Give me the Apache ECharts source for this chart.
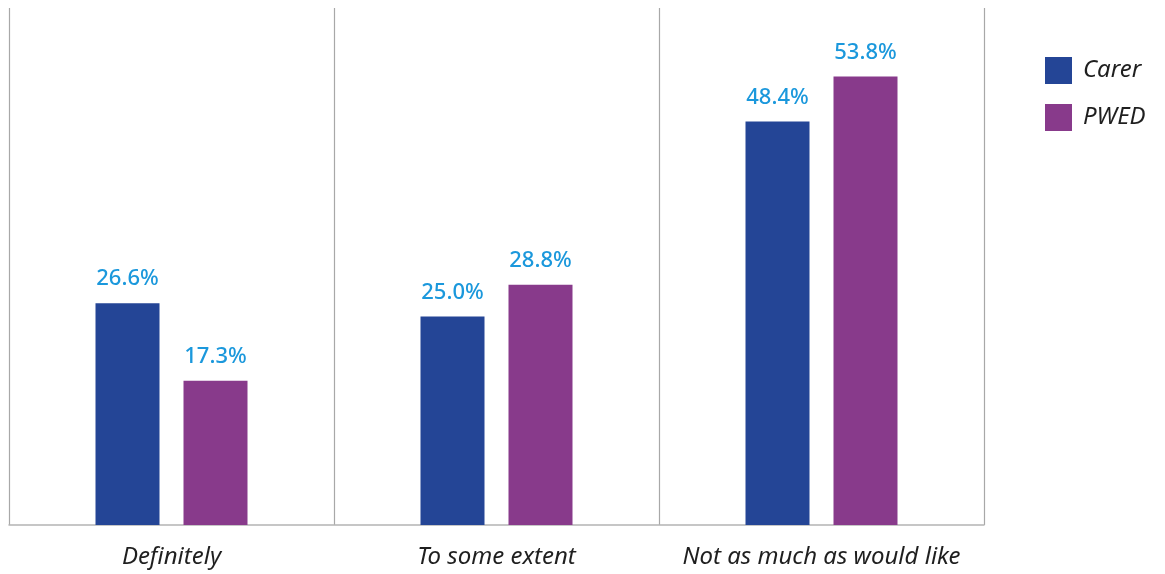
<!DOCTYPE html>
<html>
<head>
<meta charset="utf-8">
<script src="https://cdn.jsdelivr.net/npm/echarts@6/dist/echarts.min.js"></script>
<style>
  html, body { margin: 0; padding: 0; background: #ffffff; }
  #chart { width: 1165px; height: 574px; }
</style>
</head>
<body>
<div id="chart"></div>
<script>
// Responses per category, in percent
const categories = ['Definitely', 'To some extent', 'Not as much as would like'];
const carerValues = [26.6, 25.0, 48.4];
const pwedValues = [17.3, 28.8, 53.8];
const seriesNames = ['Carer', 'PWED'];

const COLORS = { carer: '#244596', pwed: '#883a8b', label: '#1b98dc', text: '#1f1f1f' };
const FONT = '"Noto Sans", "Open Sans", sans-serif';

const chart = echarts.init(document.getElementById('chart'), null, { renderer: 'canvas' });

const valueLabel = {
  show: true,
  position: 'top',
  distance: 13,
  color: COLORS.label,
  fontFamily: FONT,
  fontWeight: 500,
  fontSize: 22,
  formatter: p => p.value.toFixed(1) + '%'
};

chart.setOption({
  animation: false,
  backgroundColor: '#ffffff',
  grid: { left: 9, right: 181, top: 8, bottom: 49, containLabel: false },
  legend: {
    orient: 'vertical',
    left: 1045,
    top: 57,
    padding: 0,
    itemWidth: 27,
    itemHeight: 27,
    itemGap: 20,
    icon: 'rect',
    textStyle: { fontFamily: FONT, fontStyle: 'italic', fontSize: 24, color: COLORS.text, padding: [0, 0, 0, 6] },
    data: seriesNames
  },
  xAxis: {
    type: 'category',
    data: categories,
    boundaryGap: true,
    axisLine: { show: true, lineStyle: { color: '#b4b4b4', width: 1.5 } },
    axisTick: { show: false },
    splitLine: { show: true, interval: 0, lineStyle: { color: '#a8a8a8', width: 1.2 } },
    axisLabel: {
      interval: 0,
      fontFamily: FONT,
      fontStyle: 'italic',
      fontSize: 24,
      color: COLORS.text,
      margin: 20
    }
  },
  yAxis: {
    type: 'value',
    min: 0,
    max: 62,
    show: false,
    splitLine: { show: false }
  },
  series: [
    {
      name: seriesNames[0],
      type: 'bar',
      data: carerValues,
      barWidth: 64,
      barGap: '37.5%',
      itemStyle: { color: COLORS.carer },
      label: valueLabel
    },
    {
      name: seriesNames[1],
      type: 'bar',
      data: pwedValues,
      barWidth: 64,
      itemStyle: { color: COLORS.pwed },
      label: valueLabel
    }
  ]
});
</script>
</body>
</html>
